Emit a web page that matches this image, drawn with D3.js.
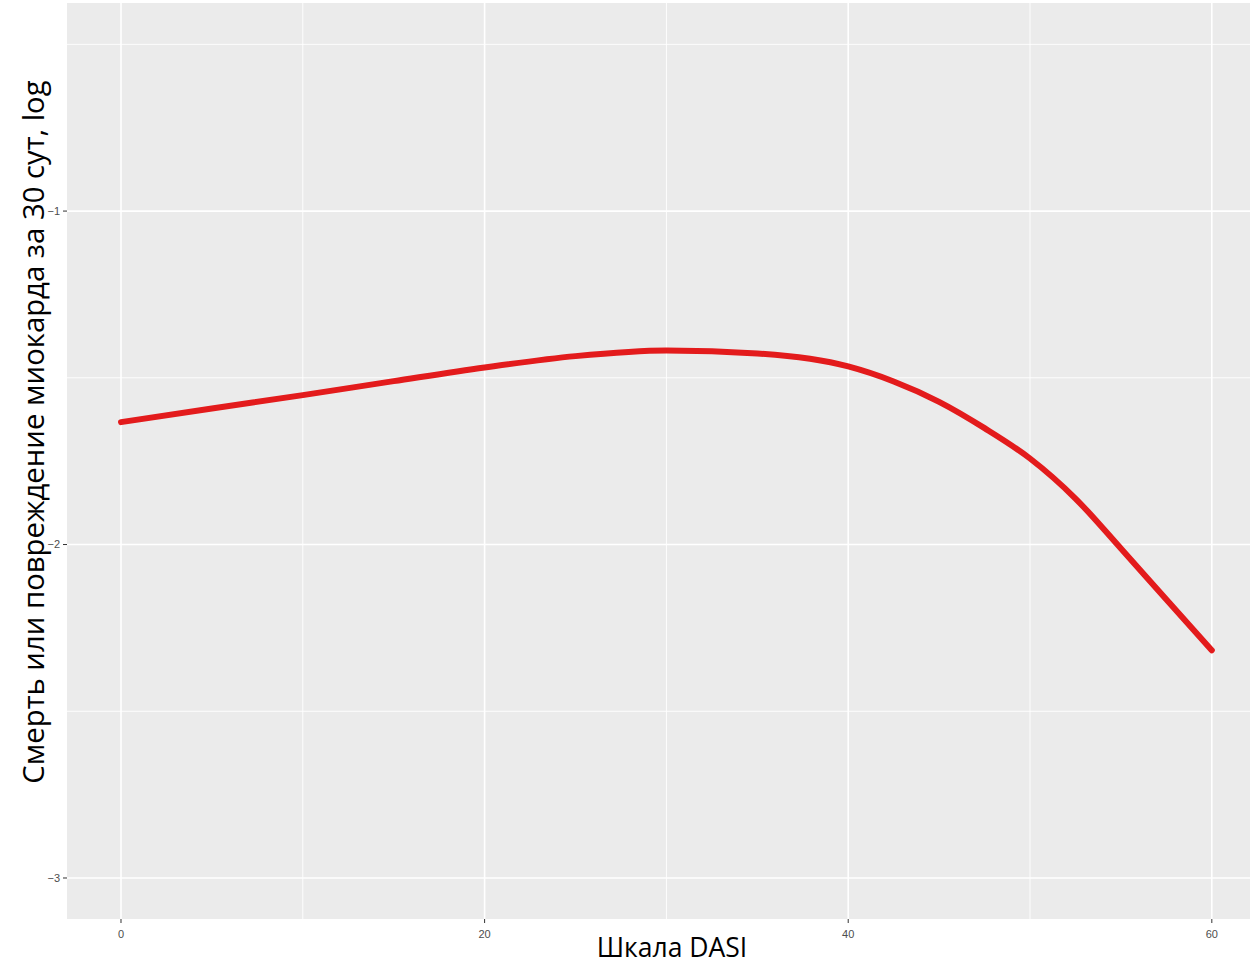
<!DOCTYPE html>
<html>
<head>
  <meta charset="UTF-8">
  <style>
    body {
      margin: 0;
      padding: 0;
      background-color: white;
    }
    .tick-label {
      font-family: "Liberation Sans", Arial, sans-serif;
      font-size: 11px;
      fill: #4d4d4d;
    }
    .axis-title {
      font-family: "Open Sans", sans-serif;
      fill: #000;
    }
  </style>
</head>
<body>
<svg></svg>
<script src="https://d3js.org/d3.v7.min.js"></script>
<script>
let width = 1250, height = 964;

// DASI score and log risk of death / myocardial injury
let dasi = [0, 5, 10, 15, 20, 25, 30, 35, 40, 42.5, 45, 47.5, 50, 52.5, 55, 57.5, 60];
let logRisk = [-1.633, -1.592, -1.552, -1.510, -1.469, -1.435, -1.418, -1.427, -1.466, -1.511, -1.572, -1.651, -1.742, -1.862, -2.012, -2.165, -2.317];

let xTicks = [0, 20, 40, 60];
let xMinor = [10, 30, 50];
let yTicks = [-3, -2, -1];
let yMinor = [-2.5, -1.5, -0.5];

let svg = d3.select("svg")
    .attr("width", width)
    .attr("height", height);

let panel = {left: 67, top: 3, right: 1250, bottom: 919};

let x = d3.scaleLinear().domain([-2.97, 62.1]).range([panel.left, panel.right]);
let y = d3.scaleLinear().domain([-3.123, -0.376]).range([panel.bottom, panel.top]);

// panel background
svg.append("rect")
    .attr("x", panel.left)
    .attr("y", panel.top)
    .attr("width", panel.right - panel.left)
    .attr("height", panel.bottom - panel.top)
    .attr("fill", "#ebebeb");

let grid = svg.append("g");

// minor grid
grid.selectAll(".vminor").data(xMinor).enter().append("line")
    .attr("x1", d => x(d)).attr("x2", d => x(d))
    .attr("y1", panel.top).attr("y2", panel.bottom)
    .attr("stroke", "white").attr("stroke-width", 0.9);
grid.selectAll(".hminor").data(yMinor).enter().append("line")
    .attr("y1", d => y(d)).attr("y2", d => y(d))
    .attr("x1", panel.left).attr("x2", panel.right)
    .attr("stroke", "white").attr("stroke-width", 0.9);

// major grid
grid.selectAll(".vmajor").data(xTicks).enter().append("line")
    .attr("x1", d => x(d)).attr("x2", d => x(d))
    .attr("y1", panel.top).attr("y2", panel.bottom)
    .attr("stroke", "white").attr("stroke-width", 1.6);
grid.selectAll(".hmajor").data(yTicks).enter().append("line")
    .attr("y1", d => y(d)).attr("y2", d => y(d))
    .attr("x1", panel.left).attr("x2", panel.right)
    .attr("stroke", "white").attr("stroke-width", 1.6);

// x axis ticks and labels
let xAxis = svg.append("g");
xAxis.selectAll("line").data(xTicks).enter().append("line")
    .attr("x1", d => x(d)).attr("x2", d => x(d))
    .attr("y1", panel.bottom).attr("y2", panel.bottom + 4)
    .attr("stroke", "#333").attr("stroke-width", 1);
xAxis.selectAll("text").data(xTicks).enter().append("text")
    .attr("class", "tick-label")
    .attr("x", d => x(d))
    .attr("y", panel.bottom + 19)
    .attr("text-anchor", "middle")
    .text(d => d);

// y axis ticks and labels
let yAxis = svg.append("g");
yAxis.selectAll("line").data(yTicks).enter().append("line")
    .attr("x1", panel.left - 4).attr("x2", panel.left)
    .attr("y1", d => y(d)).attr("y2", d => y(d))
    .attr("stroke", "#333").attr("stroke-width", 1);
yAxis.selectAll("text").data(yTicks).enter().append("text")
    .attr("class", "tick-label")
    .attr("x", panel.left - 7)
    .attr("y", d => y(d))
    .attr("dy", "0.35em")
    .attr("text-anchor", "end")
    .text(d => d.toString().replace("-", "\u2212"));

// curve
let line = d3.line()
    .x((d, i) => x(d))
    .y((d, i) => y(logRisk[i]))
    .curve(d3.curveMonotoneX);

svg.append("path")
    .attr("d", line(dasi))
    .attr("fill", "none")
    .attr("stroke", "#e31b1c")
    .attr("stroke-width", 6)
    .attr("stroke-linecap", "round");

// axis titles
svg.append("text")
    .attr("class", "axis-title")
    .attr("x", 672)
    .attr("y", 957)
    .attr("text-anchor", "middle")
    .attr("font-size", 26.5)
    .text("Шкала DASI");

svg.append("text")
    .attr("class", "axis-title")
    .attr("transform", "translate(44,432) rotate(-90)")
    .attr("text-anchor", "middle")
    .attr("font-size", 29.3)
    .text("Смерть или повреждение миокарда за 30 сут, log");
</script>
</body>
</html>
